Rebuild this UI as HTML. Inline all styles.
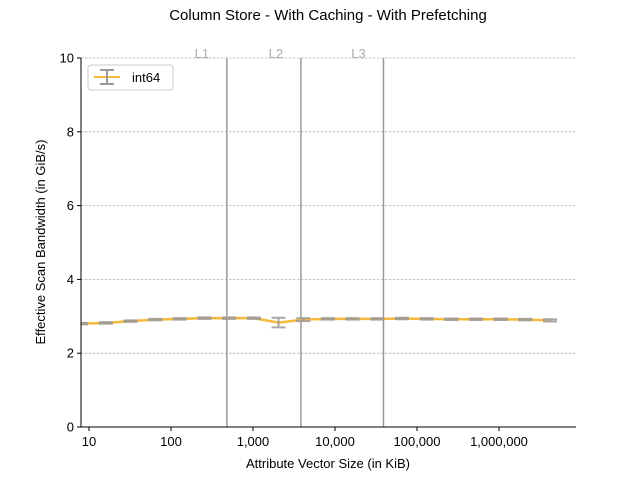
<!DOCTYPE html>
<html><head><meta charset="utf-8"><style>
body{margin:0;background:#fff;font-family:"Liberation Sans","DejaVu Sans",sans-serif;}
</style></head><body>
<svg width="640" height="480" xmlns="http://www.w3.org/2000/svg" font-family="Liberation Sans, DejaVu Sans, sans-serif">
<defs><clipPath id="plotclip"><rect x="81" y="50" width="495" height="377"/></clipPath></defs>
<text x="328" y="20" font-size="15" text-anchor="middle">Column Store - With Caching - With Prefetching</text>
<g id="grid"></g>
<g id="vlines"></g>
<g id="series" clip-path="url(#plotclip)"></g>
<g id="axes"></g>
<text x="328" y="468" font-size="13" text-anchor="middle">Attribute Vector Size (in KiB)</text>
<text transform="translate(45,242) rotate(-90)" font-size="13" text-anchor="middle">Effective Scan Bandwidth (in GiB/s)</text>
<g>
<rect x="88" y="65" width="85" height="25" rx="3" fill="#fff" stroke="#ccc"/>
<line x1="94" y1="77" x2="120" y2="77" stroke="#f4b93c" stroke-width="2"/>
<line x1="107" y1="70" x2="107" y2="84" stroke="#999" stroke-width="2"/>
<line x1="100" y1="70" x2="114" y2="70" stroke="#999" stroke-width="2"/>
<line x1="100" y1="84" x2="114" y2="84" stroke="#999" stroke-width="2"/>
<text x="132" y="82" font-size="13">int64</text>
</g>
</svg>
<script>
const sizes=[8,16,32,64,128,256,512,1024,2048,4096,8192,16384,32768,65536,131072,262144,524288,1048576,2097152,4194304];
const values=[2.8,2.82,2.87,2.91,2.93,2.95,2.95,2.95,2.83,2.91,2.93,2.93,2.93,2.94,2.93,2.92,2.92,2.92,2.91,2.89];
const errors=[0.02,0.02,0.02,0.02,0.02,0.02,0.02,0.02,0.13,0.04,0.02,0.02,0.02,0.02,0.02,0.02,0.02,0.02,0.02,0.03];
const yTicks=[0,2,4,6,8,10];
const xTicks=[10,100,1000,10000,100000,1000000];
const xTickLabels=["10","100","1,000","10,000","100,000","1,000,000"];
const cacheSizes=[480,3840,39000];
const cacheLabels=["L1","L2","L3"];
const L=81,R=576,T=58,B=427;
const xs=v=>89+82*(Math.log10(v)-1);
const ys=v=>B-(v/10)*(B-T);
const NS="http://www.w3.org/2000/svg";
function mk(p,tag,a){const e=document.createElementNS(NS,tag);for(const k in a)e.setAttribute(k,a[k]);document.getElementById(p).appendChild(e);return e;}
yTicks.forEach(t=>{
 if(t>0){const g=mk('grid','line',{x1:L,x2:R,y1:ys(t),y2:ys(t),stroke:'#b0b0b0','stroke-width':0.8,'stroke-dasharray':'2.5,1.5'});
 
 }
 const tk=mk('axes','line',{x1:L-4,x2:L,y1:ys(t),y2:ys(t),stroke:'#000'});
 
 
 const tl=mk('axes','text',{x:L-7,y:ys(t)+4.5,'font-size':13,'text-anchor':'end'});tl.textContent=t;
 
 
});
xTicks.forEach((t,i)=>{
 const tk=mk('axes','line',{x1:xs(t),x2:xs(t),y1:B,y2:B+4,stroke:'#000'});
 
 
 const tl=mk('axes','text',{x:xs(t),y:B+19,'font-size':13,'text-anchor':'middle'});tl.textContent=xTickLabels[i];
 
 
});
cacheSizes.forEach((c,i)=>{
 const l=mk('vlines','line',{x1:xs(c),x2:xs(c),y1:T,y2:B,stroke:'#999','stroke-width':1.5});
 
 
 const tx=mk('vlines','text',{x:xs(c)-25,y:T,'font-size':13,fill:'#aaa','text-anchor':'middle'});tx.textContent=cacheLabels[i];
 
 
});
const pts=sizes.map((s,i)=>xs(s)+','+ys(values[i])).join(' ');
const ln=mk('series','polyline',{points:pts,fill:'none',stroke:'#f4b93c','stroke-width':2.5});


sizes.forEach((s,i)=>{
 const x=xs(s),y1=ys(values[i]-errors[i]),y2=ys(values[i]+errors[i]);
 const g=mk('series','g',{stroke:'#999','stroke-width':2,opacity:0.85});
 
 
 [[x,y1,x,y2],[x-7,y1,x+7,y1],[x-7,y2,x+7,y2]].forEach(a=>{const e=document.createElementNS(NS,'line');e.setAttribute('x1',a[0]);e.setAttribute('y1',a[1]);e.setAttribute('x2',a[2]);e.setAttribute('y2',a[3]);g.appendChild(e);});
});
[['left',L,T,L,B],['bottom',L,B,R,B]].forEach(a=>{const e=mk('axes','line',{x1:a[1],y1:a[2],x2:a[3],y2:a[4],stroke:'#000','stroke-width':1});
 
 });
</script>
</body></html>
